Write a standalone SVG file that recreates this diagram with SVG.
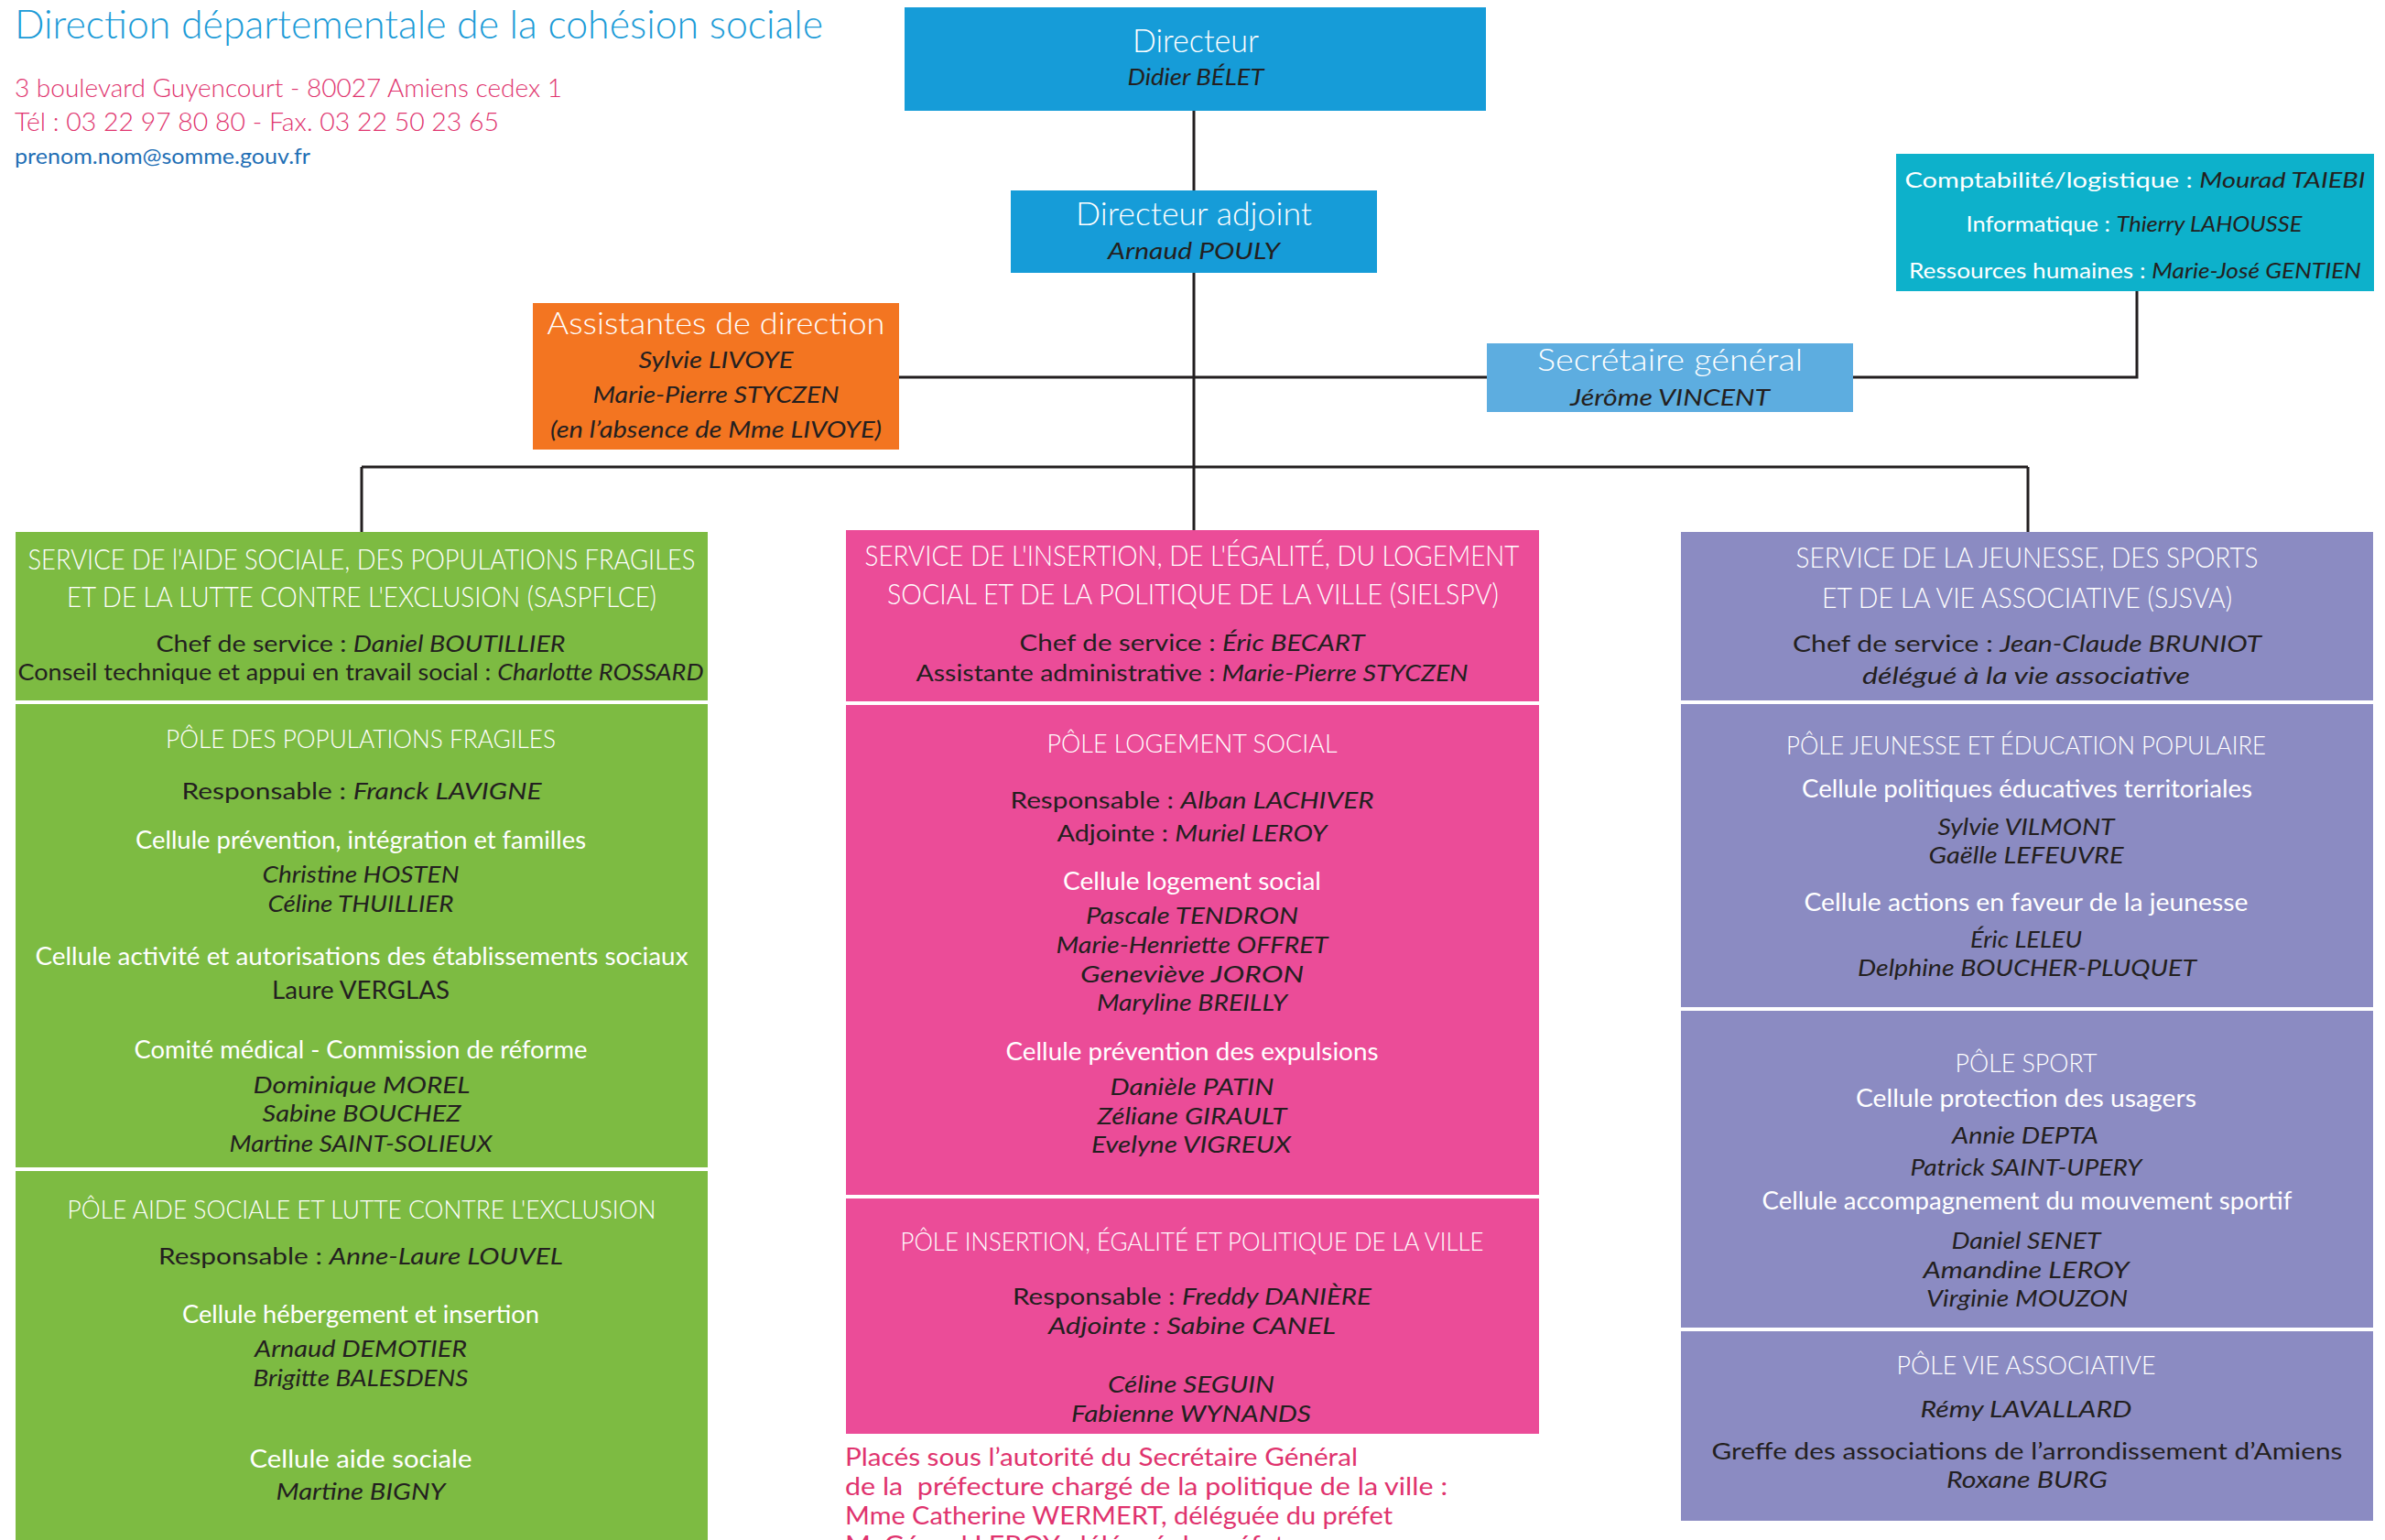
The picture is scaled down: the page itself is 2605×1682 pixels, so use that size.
<svg xmlns="http://www.w3.org/2000/svg" width="2605" height="1682" viewBox="0 0 2605 1682">
<style>
text{font-family:Lato,"Liberation Sans",sans-serif;text-anchor:middle}
.w{fill:#ffffff;font-weight:300}
.wc{fill:#ffffff;font-weight:400}
.d{fill:#231f20;font-weight:400}
.i{fill:#231f20;font-style:italic;font-weight:400}
.it{font-style:italic;fill:#231f20}
.st{font-size:31px}
.pl{font-size:28px}
.ce{font-size:26px}
.nm{font-size:26px}
.ch{font-size:25px}
.sep{stroke:#ffffff;stroke-width:4}
.con{stroke:#231f20;stroke-width:3;fill:none}
.hd{text-anchor:start}
</style>

<g id="header">
<text class="hd" x="16" y="42" font-size="43" fill="#1b9bd7" font-weight="300" textLength="883" lengthAdjust="spacingAndGlyphs">Direction départementale de la cohésion sociale</text>
<text class="hd" x="16" y="106" font-size="28" fill="#e0336e" font-weight="300" textLength="598" lengthAdjust="spacingAndGlyphs">3 boulevard Guyencourt - 80027 Amiens cedex 1</text>
<text class="hd" x="16" y="143" font-size="28" fill="#e0336e" font-weight="300" textLength="529" lengthAdjust="spacingAndGlyphs">Tél : 03 22 97 80 80 - Fax. 03 22 50 23 65</text>
<text class="hd" x="16" y="179" font-size="24" fill="#1f6fb5" font-weight="400" textLength="323" lengthAdjust="spacingAndGlyphs">prenom.nom@somme.gouv.fr</text>
</g>

<g id="connectors">
<line class="con" x1="1304" y1="121" x2="1304" y2="208"/>
<line class="con" x1="1304" y1="298" x2="1304" y2="580"/>
<line class="con" x1="982" y1="412" x2="1624" y2="412"/>
<polyline class="con" points="2024,412 2334,412 2334,318"/>
<line class="con" x1="395" y1="510" x2="2215" y2="510"/>
<line class="con" x1="395" y1="510" x2="395" y2="581"/>
<line class="con" x1="2215" y1="510" x2="2215" y2="581"/>
</g>

<g id="directeur">
<rect x="988" y="8" width="635" height="113" fill="#169cd8"/>
<text class="w" x="1306" y="57" font-size="35" textLength="138" lengthAdjust="spacingAndGlyphs">Directeur</text>
<text class="i" x="1306" y="93" font-size="26" textLength="149" lengthAdjust="spacingAndGlyphs">Didier BÉLET</text>
</g>

<g id="directeur-adjoint">
<rect x="1104" y="208" width="400" height="90" fill="#169cd8"/>
<text class="w" x="1304" y="246" font-size="35" textLength="258" lengthAdjust="spacingAndGlyphs">Directeur adjoint</text>
<text class="i" x="1304" y="283" font-size="26" textLength="188" lengthAdjust="spacingAndGlyphs">Arnaud POULY</text>
</g>

<g id="assistantes">
<rect x="582" y="331" width="400" height="160" fill="#f37521"/>
<text class="w" x="782" y="365" font-size="33" textLength="369" lengthAdjust="spacingAndGlyphs">Assistantes de direction</text>
<text class="i" x="782" y="402" font-size="25" textLength="169" lengthAdjust="spacingAndGlyphs">Sylvie LIVOYE</text>
<text class="i" x="782" y="440" font-size="25" textLength="269" lengthAdjust="spacingAndGlyphs">Marie-Pierre STYCZEN</text>
<text class="i" x="782" y="478" font-size="25" textLength="362" lengthAdjust="spacingAndGlyphs">(en l’absence de Mme LIVOYE)</text>
</g>

<g id="secretaire-general">
<rect x="1624" y="375" width="400" height="75" fill="#5dade0"/>
<text class="w" x="1824" y="405" font-size="34" textLength="290" lengthAdjust="spacingAndGlyphs">Secrétaire général</text>
<text class="i" x="1824" y="443" font-size="26" textLength="218" lengthAdjust="spacingAndGlyphs">Jérôme VINCENT</text>
</g>

<g id="support">
<rect x="2071" y="168" width="522" height="150" fill="#0db1cb"/>
<text class="wc" x="2332" y="205" font-size="24" textLength="503" lengthAdjust="spacingAndGlyphs">Comptabilité/logistique : <tspan class="it">Mourad TAIEBI</tspan></text>
<text class="wc" x="2331" y="253" font-size="24" textLength="367" lengthAdjust="spacingAndGlyphs">Informatique : <tspan class="it">Thierry LAHOUSSE</tspan></text>
<text class="wc" x="2332" y="304" font-size="24" textLength="494" lengthAdjust="spacingAndGlyphs">Ressources humaines : <tspan class="it">Marie-José GENTIEN</tspan></text>
</g>

<g id="saspflce">
<rect x="17" y="581" width="756" height="1101" fill="#7dbb42"/>
<line class="sep" x1="17" y1="767" x2="773" y2="767"/>
<line class="sep" x1="17" y1="1277" x2="773" y2="1277"/>
<text class="w st" x="395" y="622" textLength="729" lengthAdjust="spacingAndGlyphs">SERVICE DE l'AIDE SOCIALE, DES POPULATIONS FRAGILES</text>
<text class="w st" x="395" y="663" textLength="644" lengthAdjust="spacingAndGlyphs">ET DE LA LUTTE CONTRE L'EXCLUSION (SASPFLCE)</text>
<text class="d ch" x="394" y="712" textLength="447" lengthAdjust="spacingAndGlyphs">Chef de service : <tspan class="it">Daniel BOUTILLIER</tspan></text>
<text class="d ch" x="394" y="743" textLength="749" lengthAdjust="spacingAndGlyphs">Conseil technique et appui en travail social : <tspan class="it">Charlotte ROSSARD</tspan></text>
<text class="w pl" x="394" y="817" textLength="426" lengthAdjust="spacingAndGlyphs">PÔLE DES POPULATIONS FRAGILES</text>
<text class="d ch" x="395" y="873" textLength="393" lengthAdjust="spacingAndGlyphs">Responsable : <tspan class="it">Franck LAVIGNE</tspan></text>
<text class="wc ce" x="394" y="927" textLength="492" lengthAdjust="spacingAndGlyphs">Cellule prévention, intégration et familles</text>
<text class="i nm" x="394" y="964" textLength="215" lengthAdjust="spacingAndGlyphs">Christine HOSTEN</text>
<text class="i nm" x="394" y="996" textLength="203" lengthAdjust="spacingAndGlyphs">Céline THUILLIER</text>
<text class="wc ce" x="395" y="1054" textLength="713" lengthAdjust="spacingAndGlyphs">Cellule activité et autorisations des établissements sociaux</text>
<text class="d nm" x="394" y="1091" textLength="194" lengthAdjust="spacingAndGlyphs">Laure VERGLAS</text>
<text class="wc ce" x="394" y="1156" textLength="495" lengthAdjust="spacingAndGlyphs">Comité médical - Commission de réforme</text>
<text class="i nm" x="395" y="1194" textLength="237" lengthAdjust="spacingAndGlyphs">Dominique MOREL</text>
<text class="i nm" x="395" y="1225" textLength="217" lengthAdjust="spacingAndGlyphs">Sabine BOUCHEZ</text>
<text class="i nm" x="394" y="1258" textLength="287" lengthAdjust="spacingAndGlyphs">Martine SAINT-SOLIEUX</text>
<text class="w pl" x="395" y="1331" textLength="643" lengthAdjust="spacingAndGlyphs">PÔLE AIDE SOCIALE ET LUTTE CONTRE L'EXCLUSION</text>
<text class="d ch" x="394" y="1381" textLength="442" lengthAdjust="spacingAndGlyphs">Responsable : <tspan class="it">Anne-Laure LOUVEL</tspan></text>
<text class="wc ce" x="394" y="1445" textLength="390" lengthAdjust="spacingAndGlyphs">Cellule hébergement et insertion</text>
<text class="i nm" x="394" y="1482" textLength="232" lengthAdjust="spacingAndGlyphs">Arnaud DEMOTIER</text>
<text class="i nm" x="394" y="1514" textLength="235" lengthAdjust="spacingAndGlyphs">Brigitte BALESDENS</text>
<text class="wc ce" x="394" y="1603" textLength="243" lengthAdjust="spacingAndGlyphs">Cellule aide sociale</text>
<text class="i nm" x="394" y="1638" textLength="185" lengthAdjust="spacingAndGlyphs">Martine BIGNY</text>
</g>

<g id="sielspv">
<rect x="924" y="579" width="757" height="987" fill="#eb4c98"/>
<line class="sep" x1="924" y1="768" x2="1681" y2="768"/>
<line class="sep" x1="924" y1="1307" x2="1681" y2="1307"/>
<text class="w st" x="1302" y="618" textLength="715" lengthAdjust="spacingAndGlyphs">SERVICE DE L'INSERTION, DE L'ÉGALITÉ, DU LOGEMENT</text>
<text class="w st" x="1303" y="660" textLength="668" lengthAdjust="spacingAndGlyphs">SOCIAL ET DE LA POLITIQUE DE LA VILLE (SIELSPV)</text>
<text class="d ch" x="1302" y="711" textLength="377" lengthAdjust="spacingAndGlyphs">Chef de service : <tspan class="it">Éric BECART</tspan></text>
<text class="d ch" x="1302" y="744" textLength="603" lengthAdjust="spacingAndGlyphs">Assistante administrative : <tspan class="it">Marie-Pierre STYCZEN</tspan></text>
<text class="w pl" x="1302" y="822" textLength="317" lengthAdjust="spacingAndGlyphs">PÔLE LOGEMENT SOCIAL</text>
<text class="d ch" x="1302" y="883" textLength="397" lengthAdjust="spacingAndGlyphs">Responsable : <tspan class="it">Alban LACHIVER</tspan></text>
<text class="d ch" x="1302" y="919" textLength="295" lengthAdjust="spacingAndGlyphs">Adjointe : <tspan class="it">Muriel LEROY</tspan></text>
<text class="wc ce" x="1302" y="972" textLength="282" lengthAdjust="spacingAndGlyphs">Cellule logement social</text>
<text class="i nm" x="1302" y="1009" textLength="232" lengthAdjust="spacingAndGlyphs">Pascale TENDRON</text>
<text class="i nm" x="1302" y="1041" textLength="297" lengthAdjust="spacingAndGlyphs">Marie-Henriette OFFRET</text>
<text class="i nm" x="1302" y="1073" textLength="244" lengthAdjust="spacingAndGlyphs">Geneviève JORON</text>
<text class="i nm" x="1302" y="1104" textLength="208" lengthAdjust="spacingAndGlyphs">Maryline BREILLY</text>
<text class="wc ce" x="1302" y="1158" textLength="407" lengthAdjust="spacingAndGlyphs">Cellule prévention des expulsions</text>
<text class="i nm" x="1302" y="1196" textLength="179" lengthAdjust="spacingAndGlyphs">Danièle PATIN</text>
<text class="i nm" x="1302" y="1228" textLength="207" lengthAdjust="spacingAndGlyphs">Zéliane GIRAULT</text>
<text class="i nm" x="1301" y="1259" textLength="218" lengthAdjust="spacingAndGlyphs">Evelyne VIGREUX</text>
<text class="w pl" x="1302" y="1366" textLength="637" lengthAdjust="spacingAndGlyphs">PÔLE INSERTION, ÉGALITÉ ET POLITIQUE DE LA VILLE</text>
<text class="d ch" x="1302" y="1425" textLength="392" lengthAdjust="spacingAndGlyphs">Responsable : <tspan class="it">Freddy DANIÈRE</tspan></text>
<text class="i ch" x="1302" y="1457" textLength="314" lengthAdjust="spacingAndGlyphs">Adjointe : Sabine CANEL</text>
<text class="i nm" x="1301" y="1521" textLength="182" lengthAdjust="spacingAndGlyphs">Céline SEGUIN</text>
<text class="i nm" x="1301" y="1553" textLength="262" lengthAdjust="spacingAndGlyphs">Fabienne WYNANDS</text>
</g>

<g id="note" fill="#e0336e" font-size="27" font-weight="400">
<text class="hd" x="923" y="1601" textLength="560" lengthAdjust="spacingAndGlyphs">Placés sous l’autorité du Secrétaire Général</text>
<text class="hd" x="923" y="1633" textLength="658" lengthAdjust="spacingAndGlyphs" xml:space="preserve">de la  préfecture chargé de la politique de la ville :</text>
<text class="hd" x="923" y="1665" textLength="598" lengthAdjust="spacingAndGlyphs">Mme Catherine WERMERT, déléguée du préfet</text>
<text class="hd" x="923" y="1697" textLength="480" lengthAdjust="spacingAndGlyphs">M. Gérard LEROY, délégué du préfet</text>
</g>

<g id="sjsva">
<rect x="1836" y="581" width="756" height="1080" fill="#8b8bc2"/>
<line class="sep" x1="1836" y1="767" x2="2592" y2="767"/>
<line class="sep" x1="1836" y1="1102" x2="2592" y2="1102"/>
<line class="sep" x1="1836" y1="1452" x2="2592" y2="1452"/>
<text class="w st" x="2214" y="620" textLength="505" lengthAdjust="spacingAndGlyphs">SERVICE DE LA JEUNESSE, DES SPORTS</text>
<text class="w st" x="2214" y="664" textLength="448" lengthAdjust="spacingAndGlyphs">ET DE LA VIE ASSOCIATIVE (SJSVA)</text>
<text class="d ch" x="2214" y="712" textLength="512" lengthAdjust="spacingAndGlyphs">Chef de service : <tspan class="it">Jean-Claude BRUNIOT</tspan></text>
<text class="i ch" x="2213" y="747" textLength="358" lengthAdjust="spacingAndGlyphs">délégué à la vie associative</text>
<text class="w pl" x="2213" y="824" textLength="524" lengthAdjust="spacingAndGlyphs">PÔLE JEUNESSE ET ÉDUCATION POPULAIRE</text>
<text class="wc ce" x="2214" y="871" textLength="492" lengthAdjust="spacingAndGlyphs">Cellule politiques éducatives territoriales</text>
<text class="i nm" x="2213" y="912" textLength="193" lengthAdjust="spacingAndGlyphs">Sylvie VILMONT</text>
<text class="i nm" x="2213" y="943" textLength="213" lengthAdjust="spacingAndGlyphs">Gaëlle LEFEUVRE</text>
<text class="wc ce" x="2213" y="995" textLength="485" lengthAdjust="spacingAndGlyphs">Cellule actions en faveur de la jeunesse</text>
<text class="i nm" x="2213" y="1035" textLength="122" lengthAdjust="spacingAndGlyphs">Éric LELEU</text>
<text class="i nm" x="2214" y="1066" textLength="370" lengthAdjust="spacingAndGlyphs">Delphine BOUCHER-PLUQUET</text>
<text class="w pl" x="2213" y="1171" textLength="155" lengthAdjust="spacingAndGlyphs">PÔLE SPORT</text>
<text class="wc ce" x="2213" y="1209" textLength="372" lengthAdjust="spacingAndGlyphs">Cellule protection des usagers</text>
<text class="i nm" x="2212" y="1249" textLength="160" lengthAdjust="spacingAndGlyphs">Annie DEPTA</text>
<text class="i nm" x="2213" y="1284" textLength="253" lengthAdjust="spacingAndGlyphs">Patrick SAINT-UPERY</text>
<text class="wc ce" x="2214" y="1321" textLength="579" lengthAdjust="spacingAndGlyphs">Cellule accompagnement du mouvement sportif</text>
<text class="i nm" x="2213" y="1364" textLength="163" lengthAdjust="spacingAndGlyphs">Daniel SENET</text>
<text class="i nm" x="2213" y="1396" textLength="225" lengthAdjust="spacingAndGlyphs">Amandine LEROY</text>
<text class="i nm" x="2214" y="1427" textLength="220" lengthAdjust="spacingAndGlyphs">Virginie MOUZON</text>
<text class="w pl" x="2213" y="1501" textLength="283" lengthAdjust="spacingAndGlyphs">PÔLE VIE ASSOCIATIVE</text>
<text class="i nm" x="2213" y="1548" textLength="231" lengthAdjust="spacingAndGlyphs">Rémy LAVALLARD</text>
<text class="d ch" x="2214" y="1594" textLength="689" lengthAdjust="spacingAndGlyphs">Greffe des associations de l’arrondissement d’Amiens</text>
<text class="i nm" x="2214" y="1625" textLength="176" lengthAdjust="spacingAndGlyphs">Roxane BURG</text>
</g>
</svg>
